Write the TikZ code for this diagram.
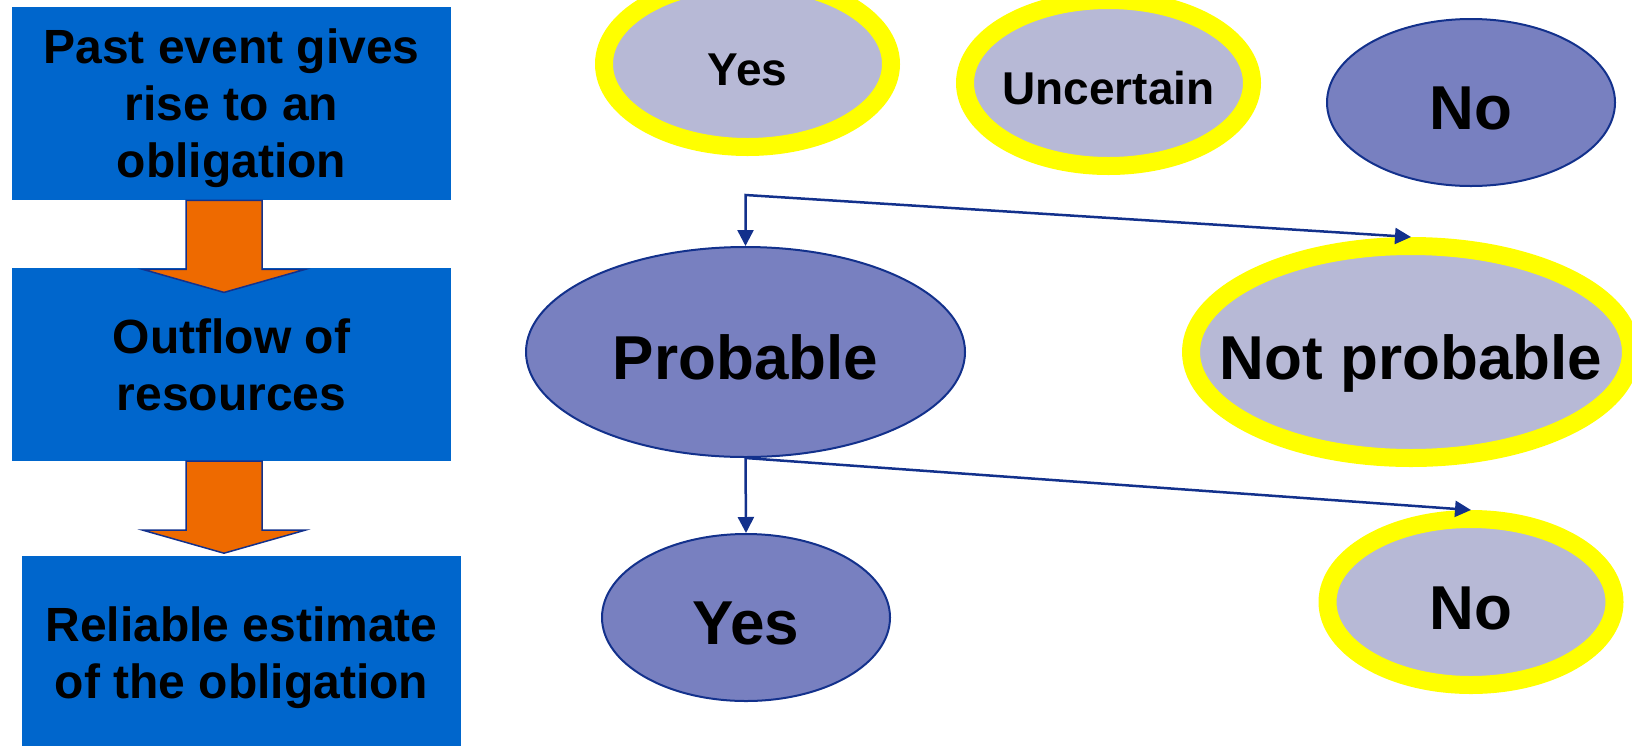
\documentclass[tikz,border=0pt]{standalone}
\usepackage{fontspec}
\setmainfont{Liberation Sans}
\usetikzlibrary{positioning,arrows.meta,shapes.geometric}
\definecolor{boxblue}{HTML}{0066CC}
\definecolor{orng}{HTML}{EE6A00}
\definecolor{navy}{HTML}{13318C}
\definecolor{lav}{HTML}{B7B9D6}
\definecolor{peri}{HTML}{7880C0}
\definecolor{hil}{HTML}{FFFF00}
\tikzset{
  >={Triangle[length=8pt,width=8pt]},
  box/.style={fill=boxblue, minimum width=219.5pt, minimum height=96.5pt, inner sep=0pt,
              text depth=0pt, align=center, font=\bfseries\fontsize{24pt}{28.5pt}\selectfont},
  bigarr/.style={fill=orng, draw=navy, line width=0.75pt, line join=miter},
  oval/.style={ellipse, fill=peri, draw=navy, line width=1pt, inner xsep=-30pt, inner ysep=0pt,
               text height=27pt, text depth=0pt,
               minimum width=144pt, minimum height=83.5pt, font=\bfseries\fontsize{31pt}{36pt}\selectfont},
  yel/.style={oval, fill=lav, draw=hil, line width=9pt, minimum width=143.5pt, minimum height=83pt},
  small/.style={text height=21.5pt, font=\bfseries\fontsize{23pt}{27pt}\selectfont},
  l/.style={draw=navy, line width=1.25pt},
}
\begin{document}
\begin{tikzpicture}[x=0.5pt, y=-0.5pt]
  \useasboundingbox (0,0) rectangle (1632,745);
  \clip (0,0) rectangle (1632,745);
  % left column
  \node[box] (past) at (231.5,103.5) {Past event gives\\rise to an\\obligation};
  \node[box,below=33.5pt of past] (outflow) {Outflow of\\resources};
  \node[box,below=47pt of outflow,xshift=5pt] (estimate) {Reliable estimate\\of the obligation};
  \foreach \n in {past,outflow}
    \draw[bigarr] (\n.south) ++(-45.5,0) -- ++(0,69) -- ++(-43,0) -- ++(81,23) -- ++(81,-23) -- ++(-43,0) -- ++(0,-69) -- cycle;
  % answers
  \node[yel,small] (yesA) at (747.5,64) {Yes};
  \node[yel,small] (unc) at (1108.5,83) {Uncertain};
  \node[oval] (noA) at (1471,102.5) {No};
  \node[oval,minimum width=219.5pt,minimum height=105pt] (prob) at (745.5,352) {Probable};
  \node[yel,minimum width=220pt,minimum height=106pt] (notprob) at (1411,352) {Not probable};
  \node[oval] (yesB) at (746,617.5) {Yes};
  \node[yel] (noB) at (1471,602) {No};
  \coordinate (split) at (745.5,195);
  \draw[l,<->] (prob.north) -- (split) -- (notprob.north);
  \draw[l,->] (prob.south) -- (yesB.north);
  \draw[l,->] (prob.south) -- (noB.north);
\end{tikzpicture}
\end{document}
